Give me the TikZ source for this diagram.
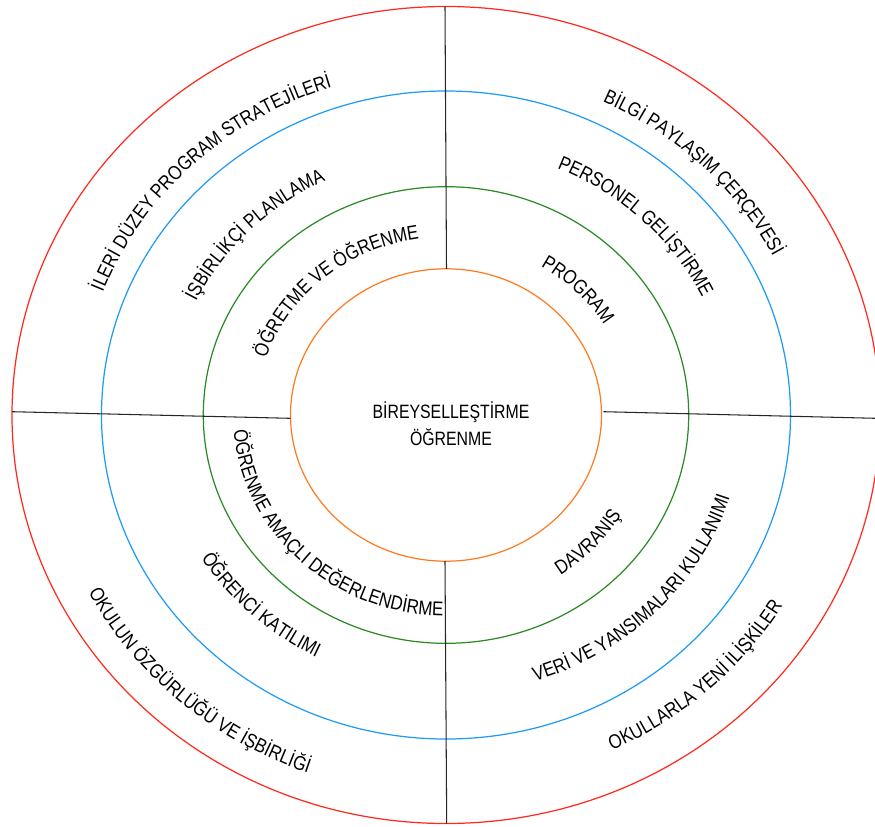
\documentclass[tikz,border=0pt]{standalone}
\usepackage{fontspec}
\setmainfont{Liberation Sans}[FakeStretch=0.82]
\newfontfamily\ringfamily{Liberation Sans}[FakeStretch=0.85]
\usetikzlibrary{decorations.text}
\definecolor{ringred}{HTML}{FF2A1F}
\definecolor{ringblue}{HTML}{1E9BF5}
\definecolor{ringgreen}{HTML}{2B8A24}
\definecolor{ringorange}{HTML}{FF7B22}
\newcommand{\lbl}{\fontsize{11}{15.3}\selectfont}
\newcommand{\rlbl}{\ringfamily\fontsize{11.3}{14}\selectfont}
\tikzset{ ring/.style = { draw
                        , line width = 0.7pt
                        },
          divider/.style = { draw = black!85
                           , line width = 0.6pt
                           },
          ringtext/.style = { decorate
                            , decoration = { text along path
                                           , text align = center
                                           , text = {|\rlbl|#1}
                                           }
                            }
        }
% centre angle, x radius, y radius, half span (+ clockwise, - counterclockwise), text
\newcommand{\ringlabel}[5]{%
  \path[ringtext={#5}] ({#1+(#4)}:#2 and #3)
    arc[start angle={#1+(#4)}, end angle={#1-(#4)}, x radius=#2, y radius=#3];}

\begin{document}
\begin{tikzpicture}[x=0.02cm, y=0.02cm]
          \useasboundingbox (-446,-411) rectangle (429,415);
          \clip (-446,-411) rectangle (429,415);
          \foreach \c/\rx/\ry in {ringred/434/408.5, ringblue/344.5/324,
                                  ringgreen/242.7/228.3, ringorange/155.5/146.2} {
            \draw[ring, \c] (0,0) ellipse[x radius=\rx, y radius=\ry];
          }
          \coordinate (top1) at (-1,408.5);
          \coordinate (top2) at (0.5,146.2);
          \coordinate (bot1) at (-1,-146.2);
          \coordinate (bot2) at (0.7,-408.5);
          \coordinate (lft1) at (-434,3.3);
          \coordinate (lft2) at (-155.5,-3.3);
          \coordinate (rgt1) at (157.3,3.3);
          \coordinate (rgt2) at (434,-3.4);
          \draw[divider] (top1)--(top2)  (bot1)--(bot2)  (lft1)--(lft2)  (rgt1)--(rgt2);
          \node[font=\lbl, align=center] (core) at (5,-9) {BİREYSELLEŞTİRME\\ÖĞRENME};
          % upper left
          \ringlabel{135}{367}{345}{80}{İLERİ DÜZEY PROGRAM STRATEJİLERİ}
          \ringlabel{136.5}{277.5}{260.5}{80}{İŞBİRLİKÇİ PLANLAMA}
          \ringlabel{131}{190}{178}{80}{ÖĞRETME VE ÖĞRENME}
          % upper right
          \ringlabel{44.5}{368}{346}{80}{BİLGİ PAYLAŞIM ÇERÇEVESİ}
          \ringlabel{45}{285}{268}{80}{PERSONEL GELİŞTİRME}
          \ringlabel{43.5}{185}{173}{80}{PROGRAM}
          % lower left
          \ringlabel{226}{213}{201}{-80}{ÖĞRENME AMAÇLI DEĞERLENDİRME}
          \ringlabel{226}{288}{271}{-80}{ÖĞRENCİ KATILIMI}
          \ringlabel{227.5}{404}{381}{-80}{OKULUN ÖZGÜRLÜĞÜ VE İŞBİRLİĞİ}
          % lower right
          \ringlabel{318}{205}{193}{-80}{DAVRANIŞ}
          \ringlabel{316.5}{297}{279}{-80}{VERİ VE YANSIMALARI KULLANIMI}
          \ringlabel{313.5}{393}{370}{-80}{OKULLARLA YENİ İLİŞKİLER}
        \end{tikzpicture}
\end{document}
